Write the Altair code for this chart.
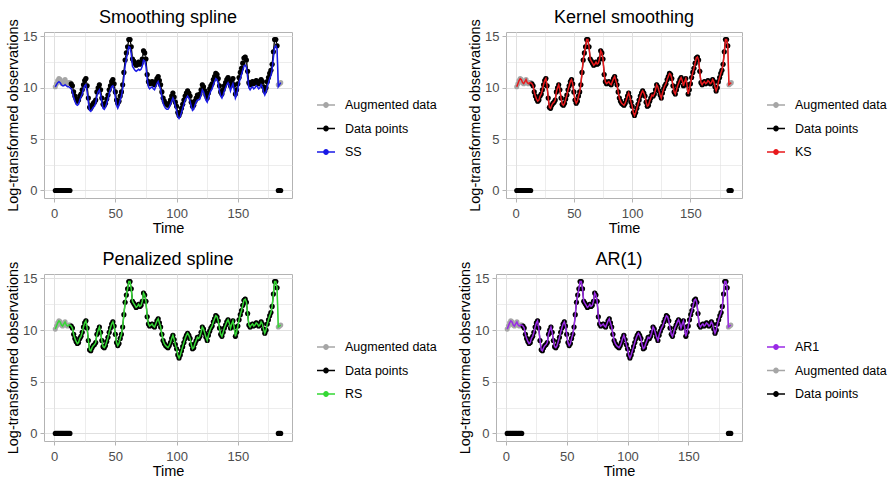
import altair as alt
import pandas as pd

# ---------------- data ----------------
TIME = list(range(1, 186))

# imputed values (gray "Augmented data") where the series is missing
IMPUTED_START = [10.1, 10.4, 10.7, 10.9, 10.8, 10.5, 10.4, 10.6, 10.8, 10.5, 10.4, 10.5, 10.5]
IMPUTED_END = [10.3, 10.4, 10.5]

# observed log values, t = 14 .. 182
OBSERVED = [
    10.4, 10.2, 9.6, 9.2, 8.9, 8.7, 8.8,
    9.2, 9.4, 9.8, 10.3, 10.7, 10.9, 10.2, 9.0, 8.1, 8.0,
    8.3, 8.5, 8.6, 8.8, 9.6, 10.0, 10.3, 9.8, 9.0, 8.4,
    8.3, 8.5, 8.9, 9.3, 9.8, 10.2, 10.6, 10.8, 10.4, 9.6,
    8.8, 8.5, 8.7, 9.2, 9.6, 10.3, 11.5, 12.7, 13.4, 14.0,
    14.7, 14.7, 14.0, 12.8, 12.6, 12.4, 12.2, 12.3, 12.5, 12.3,
    12.4, 12.8, 13.6, 13.4, 12.8, 11.3, 10.6, 10.4, 10.5, 10.6,
    10.4, 10.3, 10.6, 10.9, 11.1, 10.7, 10.3, 9.6, 9.0, 8.7,
    8.5, 8.4, 8.3, 8.5, 8.8, 9.2, 9.5, 9.1, 8.6, 8.2,
    7.6, 7.3, 7.6, 8.0, 8.4, 8.8, 9.2, 9.5, 9.7, 9.5,
    9.2, 8.6, 8.2, 8.3, 8.7, 9.0, 9.3, 9.2, 9.4, 9.8,
    10.3, 10.1, 9.7, 9.3, 9.0, 9.5, 9.9, 10.2, 10.4, 10.8,
    11.1, 11.4, 11.3, 10.9, 10.2, 9.6, 9.4, 9.8, 10.2, 10.5,
    10.8, 11.0, 10.7, 10.2, 10.6, 10.9, 10.3, 9.4, 9.8, 10.4,
    11.0, 11.5, 11.9, 12.4, 12.9, 13.0, 12.7, 11.6, 10.5, 10.3,
    10.5, 10.6, 10.4, 10.5, 10.7, 10.6, 10.4, 10.5, 10.8, 10.6,
    10.1, 9.7, 10.0, 10.6, 11.0, 11.4, 11.7, 12.3, 13.5, 14.7,
    14.7, 14.1,
]
MISSING_CODE = 0.0

# smoothing-spline fit (blue), sits a little below the points
SS_FIT = [
    10.1, 10.3, 10.5, 10.6, 10.5, 10.3, 10.2, 10.2, 10.3, 10.2, 10.1, 10.1, 10.0,
    9.9, 9.6, 9.1, 8.7, 8.4, 8.3, 8.4,
    8.8, 9.1, 9.4, 9.9, 10.2, 10.3, 9.6, 8.6, 7.8, 7.7,
    7.9, 8.1, 8.2, 8.5, 9.2, 9.6, 9.8, 9.3, 8.6, 8.0,
    7.9, 8.1, 8.5, 8.9, 9.4, 9.8, 10.1, 10.2, 9.8, 9.1,
    8.3, 8.0, 8.3, 8.8, 9.2, 9.9, 11.0, 12.1, 12.8, 13.4,
    14.0, 13.9, 13.3, 12.1, 11.9, 11.7, 11.6, 11.7, 11.8, 11.7,
    11.8, 12.1, 12.7, 12.6, 12.1, 10.9, 10.1, 9.9, 10.0, 10.1,
    9.9, 9.8, 10.1, 10.4, 10.6, 10.2, 9.8, 9.1, 8.5, 8.2,
    8.0, 7.9, 7.9, 8.1, 8.4, 8.7, 9.0, 8.7, 8.2, 7.8,
    7.2, 7.0, 7.2, 7.6, 8.0, 8.4, 8.8, 9.0, 9.2, 9.0,
    8.7, 8.2, 7.8, 7.9, 8.3, 8.6, 8.8, 8.8, 8.9, 9.3,
    9.8, 9.6, 9.2, 8.8, 8.6, 9.0, 9.4, 9.7, 9.9, 10.3,
    10.6, 10.9, 10.8, 10.4, 9.7, 9.2, 9.0, 9.3, 9.7, 10.0,
    10.3, 10.5, 10.2, 9.7, 10.1, 10.4, 9.8, 9.0, 9.3, 9.9,
    10.5, 10.9, 11.3, 11.7, 12.1, 12.2, 12.0, 11.0, 10.0, 9.8,
    10.0, 10.1, 9.9, 10.0, 10.2, 10.1, 9.9, 10.0, 10.3, 10.1,
    9.6, 9.3, 9.6, 10.1, 10.5, 10.9, 11.2, 11.8, 12.9, 13.9,
    14.1, 13.8, 10.1, 10.3, 10.5,
]

AUGMENTED = IMPUTED_START + OBSERVED + IMPUTED_END
DATA_POINTS = [MISSING_CODE] * len(IMPUTED_START) + OBSERVED + [MISSING_CODE] * len(IMPUTED_END)

# kernel smoothing, penalized spline and AR(1) fits run through the points
KS_FIT = AUGMENTED
RS_FIT = AUGMENTED
AR1_FIT = AUGMENTED

PANELS = [
    ("Smoothing spline", "SS", "#1a1ae6", SS_FIT, ["Augmented data", "Data points", "SS"]),
    ("Kernel smoothing", "KS", "#e8191c", KS_FIT, ["Augmented data", "Data points", "KS"]),
    ("Penalized spline", "RS", "#35d835", RS_FIT, ["Augmented data", "Data points", "RS"]),
    ("AR(1)", "AR1", "#9a2be6", AR1_FIT, ["AR1", "Augmented data", "Data points"]),
]

GRAY = "#a6a6a6"
BLACK = "#000000"
FONT = "Liberation Sans"

X_TICKS = [0, 25, 50, 75, 100, 125, 150, 175]
Y_TICKS = [0, 2.5, 5, 7.5, 10, 12.5, 15]

LEGEND_SYMBOL = ("M-1,0L1,0M-0.24,0A0.24,0.24 0 1,1 0.24,0A0.24,0.24 0 1,1 -0.24,0Z")


def make_df(model_name, model_vals):
    rows = []
    n_start = len(IMPUTED_START)
    n_obs = len(OBSERVED)
    for i, t in enumerate(TIME):
        rows.append({"t": t, "value": AUGMENTED[i], "series": "Augmented data", "seg": "aug"})
        if i < n_start:
            seg = "z1"
        elif i < n_start + n_obs:
            seg = "obs"
        else:
            seg = "z2"
        rows.append({"t": t, "value": DATA_POINTS[i], "series": "Data points", "seg": seg})
        rows.append({"t": t, "value": model_vals[i], "series": model_name, "seg": "model"})
    return pd.DataFrame(rows)


def axis_common(title, values, major_test, label_pad, title_pad):
    return alt.Axis(
        title=title,
        values=values,
        labelExpr=f"{major_test} ? datum.label : ''",
        grid=True,
        gridColor="#e0e0e0",
        gridWidth={"condition": {"test": major_test, "value": 1.0}, "value": 0.6},
        tickOpacity={"condition": {"test": major_test, "value": 1}, "value": 0},
        tickColor="#b3b3b3",
        tickSize=4,
        domain=False,
        labelColor="#4d4d4d",
        labelFontSize=13,
        labelFont=FONT,
        labelPadding=label_pad,
        labelFlush=False,
        labelOverlap=False,
        titleFont=FONT,
        titleFontSize=14.5,
        titleFontWeight="normal",
        titleColor="#000000",
        titlePadding=title_pad,
    )


def panel(title, model_name, model_color, model_vals, order, width, height, leg_x, leg_y):
    df = make_df(model_name, model_vals)
    color_map = {"Augmented data": GRAY, "Data points": BLACK, model_name: model_color}
    color = alt.Color(
        "series:N",
        scale=alt.Scale(domain=order, range=[color_map[s] for s in order]),
        legend=alt.Legend(
            title=None,
            orient="none",
            legendX=leg_x,
            legendY=leg_y,
            symbolType=LEGEND_SYMBOL,
            symbolSize=324,
            symbolStrokeWidth=1.5,
            symbolOpacity=1,
            labelFont=FONT,
            labelFontSize=12.5,
            labelColor="#000000",
            labelOffset=9,
            rowPadding=6.5,
            padding=0,
        ),
    )
    base = alt.Chart(df).encode(
        x=alt.X("t:Q", scale=alt.Scale(domain=[-8.2, 194.2], nice=False, zero=False),
                axis=axis_common("Time", X_TICKS, "datum.value % 50 === 0", 5, 1)),
        y=alt.Y("value:Q", scale=alt.Scale(domain=[-0.735, 15.435], nice=False, zero=False),
                axis=axis_common("Log-transformed observations", Y_TICKS,
                                 "datum.value % 5 === 0", 3, 2)),
        color=color,
        detail="seg:N",
    )
    aug = base.transform_filter(alt.datum.series == "Augmented data")
    dat = base.transform_filter(alt.datum.series == "Data points")
    mod = base.transform_filter(alt.datum.series == model_name)
    layers = [
        aug.mark_line(strokeWidth=1.2),
        dat.mark_line(strokeWidth=1.2),
        aug.mark_point(filled=True, size=26, opacity=1),
        dat.mark_point(filled=True, size=26, opacity=1),
        mod.mark_line(strokeWidth=1.5),
    ]
    return alt.layer(*layers).properties(
        width=width,
        height=height,
        title=alt.TitleParams(title, font=FONT, fontSize=18, fontWeight="normal",
                              color="#000000", anchor="middle", frame="group", offset=-8),
    )


p1 = panel(*PANELS[0], 248, 166, 272, 63)
p2 = panel(*PANELS[1], 236, 166, 260, 63)
p3 = panel(*PANELS[2], 248, 167, 272, 63)
p4 = panel(*PANELS[3], 246, 167, 270, 63)

top = alt.hconcat(p1, p2, spacing=214, bounds="flush").resolve_scale(
    color="independent").resolve_legend(color="independent")
bottom = alt.hconcat(p3, p4, spacing=204, bounds="flush").resolve_scale(
    color="independent").resolve_legend(color="independent")

chart = alt.vconcat(top, bottom, spacing=15).resolve_scale(
    color="independent").resolve_legend(color="independent").properties(
    padding={"left": 5, "top": 8, "right": 0, "bottom": 0},
    background="#ffffff",
).configure_view(stroke="#b3b3b3", strokeWidth=1)

chart.save("out.html", embed_options={"renderer": "svg", "actions": False})
